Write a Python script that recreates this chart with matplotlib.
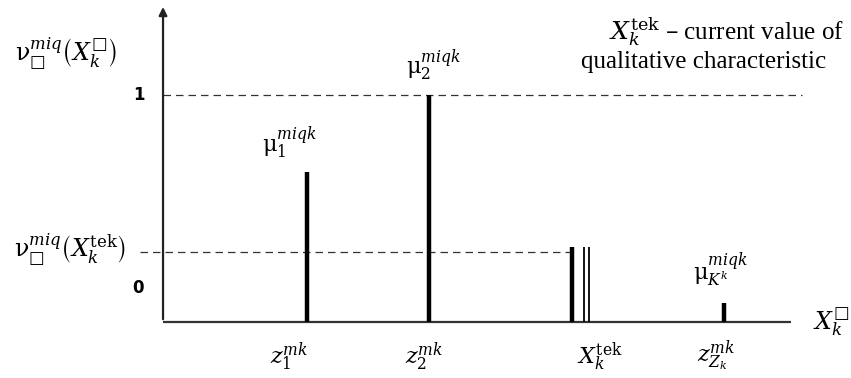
import matplotlib.pyplot as plt

plt.rcParams['mathtext.fontset'] = 'dejavuserif'

# membership diagram data (x in arbitrary units along X_k, y = membership degree)
bar_x = [2.29, 4.24, 8.93]          # z_1, z_2, z_Zk
bar_h = [0.66, 1.00, 0.084]
tek_x = 6.51                        # current value X_k^tek
tek_pair = [6.70, 6.78]
tek_level = 0.31
x_end = 10.0
tick_x = [1.70, 3.85, 6.59, 8.50]
tick_labels = [r'$z_1^{mk}$', r'$z_2^{mk}$', r'$X_k^{\mathrm{tek}}$', r'$z_{Z_k}^{mk}$']
mu_labels = [r'$\mathrm{\mu}_1^{miqk}$', r'$\mathrm{\mu}_2^{miqk}$', r'$\mathrm{\mu}_{K^k}^{miqk}$']
box = '□'

fig = plt.figure(figsize=(8.51, 3.78), dpi=100)
ax = fig.add_axes([0, 0, 1, 1])
ax.set_xlim(-2.596, 10.955)
ax.set_ylim(-0.2467, 1.4185)
ax.axis('off')

# axes with arrow
ax.plot([0, x_end], [0, 0], color='#333333', lw=1.6, solid_capstyle='butt')
ax.annotate('', xy=(0, 1.40), xytext=(0, 0),
            arrowprops=dict(arrowstyle='-|>', color='#222222', lw=1.6,
                            mutation_scale=12))

# dashed guide lines
ax.plot([0, 10.18], [1, 1], color='#333333', lw=0.9, ls=(0, (6, 4)))
ax.plot([-0.37, tek_x], [tek_level, tek_level], color='#333333', lw=0.9, ls=(0, (6, 4)))

# bars
ax.vlines(bar_x, 0, bar_h, color='black', lw=3.2)
ax.vlines([tek_x], 0, 0.33, color='black', lw=3.2)
ax.vlines(tek_pair, 0, 0.33, color='black', lw=1.3)

# tick labels under the x axis
for x, lab in zip(tick_x, tick_labels):
    ax.text(x, -0.154, lab, ha='left', va='center', fontsize=16)

# mu labels
ax.text(1.58, 0.79, mu_labels[0], ha='left', va='center', fontsize=16)
ax.text(3.87, 1.13, mu_labels[1], ha='left', va='center', fontsize=16)
ax.text(8.44, 0.23, mu_labels[2], ha='left', va='center', fontsize=16)

# y labels
ax.text(-1.54, 1.18, r'$\mathrm{\nu}_{%s}^{miq}\left(X_k^{%s}\right)$' % (box, box),
        ha='center', va='center', fontsize=17)
ax.text(-0.38, 1.0, '1', ha='center', va='center', fontsize=12, fontweight='bold')
ax.text(-1.48, 0.317, r'$\mathrm{\nu}_{%s}^{miq}\left(X_k^{\mathrm{tek}}\right)$' % box,
        ha='center', va='center', fontsize=17)
ax.text(-0.40, 0.15, '0', ha='center', va='center', fontsize=12, fontweight='bold')

# x axis label
ax.text(10.64, 0.0, r'$X_k^{%s}$' % box, ha='center', va='center', fontsize=17)

# note in the upper right
ax.text(10.85, 1.275, r'$X_k^{\mathrm{tek}}$' + ' – current value of', ha='right', va='center',
        fontsize=18, family='Liberation Serif')
ax.text(10.56, 1.145, 'qualitative characteristic', ha='right', va='center',
        fontsize=18, family='Liberation Serif')

fig.savefig('out.png', dpi=100)
